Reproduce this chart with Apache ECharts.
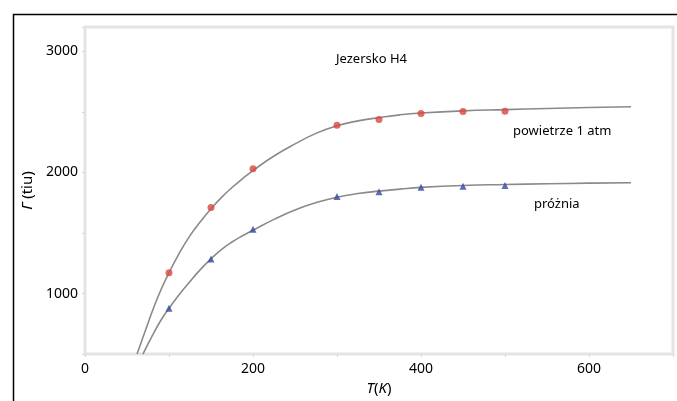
<!DOCTYPE html>
<html>
<head>
<meta charset="utf-8">
<script src="https://cdn.jsdelivr.net/npm/echarts@6/dist/echarts.min.js"></script>
<style>
    html, body { margin: 0; padding: 0; background: #fff; }
    #main { width: 677px; height: 401px; }
</style>
</head>
<body>
<div id="main"></div>
<script>
    // punkty pomiarowe
    var airPoints = [[100, 1171], [150, 1710], [200, 2029], [300, 2390], [350, 2437], [400, 2486], [450, 2502], [500, 2505]];
    var vacPoints = [[100, 878], [150, 1286], [200, 1531], [300, 1800], [350, 1841], [400, 1877], [450, 1885], [500, 1892]];

    // krzywe dopasowania
    var airFit = [[62, 500], [75, 755], [87, 975], [100, 1171], [112, 1330], [125, 1478], [137, 1590], [150, 1700],
        [162, 1790], [175, 1875], [187, 1945], [200, 2015], [225, 2135], [250, 2235], [275, 2322], [300, 2385],
        [325, 2425], [350, 2452], [375, 2475], [400, 2490], [450, 2508], [500, 2518], [550, 2527], [600, 2535], [650, 2542]];
    var vacFit = [[69, 500], [80, 650], [90, 775], [100, 878], [112, 990], [125, 1100], [137, 1195], [150, 1286],
        [162, 1360], [175, 1425], [187, 1475], [200, 1522], [225, 1612], [250, 1690], [275, 1750], [300, 1795],
        [325, 1825], [350, 1845], [375, 1862], [400, 1876], [450, 1892], [500, 1900], [550, 1906], [600, 1911], [650, 1915]];

    var xTicks = [0, 200, 400, 600];
    var yTicks = [1000, 2000, 3000];

    var font = 'Noto Sans';
    var myChart = echarts.init(document.getElementById('main'));

    var option = {
        animation: false,
        textStyle: { fontFamily: font },
        grid: {
            left: 85, top: 27, right: 4, bottom: 42,
            show: true,
            borderColor: '#e4e4e4',
            borderWidth: 3
        },
        xAxis: {
            type: 'value',
            min: 0, max: 700, interval: 100,
            name: '{i|T}({i|K})',
            nameLocation: 'middle',
            nameGap: 21,
            nameTextStyle: {
                color: '#000', fontSize: 15, fontFamily: font,
                rich: { i: { fontStyle: 'italic', fontSize: 15, color: '#000', fontFamily: font } }
            },
            splitLine: { show: false },
            axisLine: { show: false },
            axisTick: { show: true, length: 3, lineStyle: { color: '#d8d8d8' } },
            axisLabel: {
                color: '#000', fontSize: 14, margin: 8,
                formatter: function (v) { return xTicks.indexOf(v) >= 0 ? v : ''; }
            }
        },
        yAxis: {
            type: 'value',
            min: 500, max: 3200, interval: 500,
            name: '{i|Γ} (tiu)',
            nameLocation: 'middle',
            nameGap: 46,
            nameTextStyle: {
                color: '#000', fontSize: 15, fontFamily: font,
                rich: { i: { fontStyle: 'italic', fontSize: 15, color: '#000', fontFamily: font } }
            },
            splitLine: { show: false },
            axisLine: { show: false },
            axisTick: { show: true, length: 3, lineStyle: { color: '#d8d8d8' } },
            axisLabel: {
                color: '#000', fontSize: 14, margin: 7,
                formatter: function (v) { return yTicks.indexOf(v) >= 0 ? v : ''; }
            }
        },
        graphic: [
            { type: 'rect', left: 11, top: 12, shape: { width: 700, height: 420 },
              style: { fill: 'none', stroke: '#000', lineWidth: 1.5 }, z: 100, silent: true },
            { type: 'text', left: 336, top: 53, style: { text: 'Jezersko H4', fontSize: 13, fontFamily: font, fill: '#000' } },
            { type: 'text', left: 513, top: 125, style: { text: 'powietrze 1 atm', fontSize: 13, fontFamily: font, fill: '#000' } },
            { type: 'text', left: 534, top: 198, style: { text: 'próżnia', fontSize: 13, fontFamily: font, fill: '#000' } }
        ],
        series: [
            {
                name: 'fit air', type: 'line', data: airFit, smooth: true,
                showSymbol: false, lineStyle: { color: '#8a8a8a', width: 1.6 }, z: 2
            },
            {
                name: 'fit vac', type: 'line', data: vacFit, smooth: true,
                showSymbol: false, lineStyle: { color: '#8a8a8a', width: 1.6 }, z: 2
            },
            {
                name: 'powietrze 1 atm', type: 'scatter', data: airPoints,
                symbol: 'circle', symbolSize: 7, itemStyle: { color: '#d9473f' }, z: 3
            },
            {
                name: 'próżnia', type: 'scatter', data: vacPoints,
                symbol: 'triangle', symbolSize: 7, itemStyle: { color: '#34489a' }, z: 3
            }
        ]
    };
    myChart.setOption(option);
</script>
</body>
</html>
